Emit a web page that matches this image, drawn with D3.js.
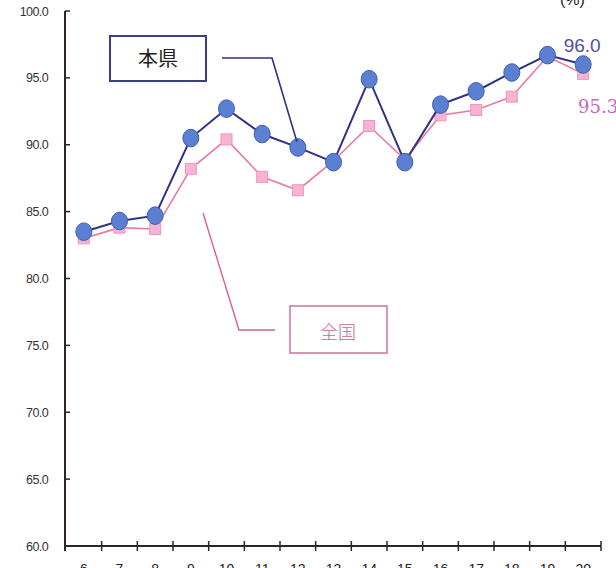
<!DOCTYPE html>
<html>
<head>
<meta charset="utf-8">
<script src="https://cdn.jsdelivr.net/npm/d3@7"></script>
<style>
  body { margin: 0; background: #fff; }
  svg { display: block; }
</style>
</head>
<body>
<div id="chart"></div>
<script>
// years (heisei 6 .. 20)
const years = [6, 7, 8, 9, 10, 11, 12, 13, 14, 15, 16, 17, 18, 19, 20];
// prefecture rate
const kenValues = [83.5, 84.3, 84.7, 90.5, 92.7, 90.8, 89.8, 88.7, 94.9, 88.7, 93.0, 94.0, 95.4, 96.7, 96.0];
// national rate
const zenValues = [83.0, 83.8, 83.7, 88.2, 90.4, 87.6, 86.6, 88.8, 91.4, 88.9, 92.2, 92.6, 93.6, 96.6, 95.3];
const yTicks = [60, 65, 70, 75, 80, 85, 90, 95, 100];

const width = 616, height = 568;
const font = "'Liberation Sans', Arial, sans-serif";

const svg = d3.select("#chart").append("svg")
    .attr("width", width)
    .attr("height", height);

const x = d3.scaleBand().domain(years).range([66, 601]).padding(0);
const y = d3.scaleLinear().domain([60, 100]).range([546, 11]);
const cx = d => x(d) + x.bandwidth() / 2;

// y axis
const axisColor = "#2e2626";
svg.append("line")
    .attr("x1", 65).attr("x2", 65)
    .attr("y1", y(100)).attr("y2", y(60) + 5)
    .attr("stroke", axisColor).attr("stroke-width", 2);

svg.append("g").selectAll("line")
    .data(yTicks)
    .join("line")
    .attr("x1", 65).attr("x2", 70)
    .attr("y1", d => y(d)).attr("y2", d => y(d))
    .attr("stroke", axisColor).attr("stroke-width", 1.5);

svg.append("g").selectAll("text")
    .data(yTicks)
    .join("text")
    .attr("x", 48)
    .attr("y", d => y(d) + 4.5)
    .attr("text-anchor", "end")
    .attr("font-family", font)
    .attr("font-size", 12.5)
    .attr("letter-spacing", -0.6)
    .attr("fill", "#333")
    .text(d => d.toFixed(1));

// x axis
svg.append("line")
    .attr("x1", 65).attr("x2", 601)
    .attr("y1", y(60)).attr("y2", y(60))
    .attr("stroke", axisColor).attr("stroke-width", 2);

const edges = years.map(d => x(d)).concat([x(years[years.length - 1]) + x.bandwidth()]);
svg.append("g").selectAll("line")
    .data(edges.slice(1))
    .join("line")
    .attr("x1", d => d).attr("x2", d => d)
    .attr("y1", y(60) - 5).attr("y2", y(60) + 5)
    .attr("stroke", axisColor).attr("stroke-width", 1.5);

// year labels sit partly below the picture edge, as in the reference
svg.append("g").selectAll("text")
    .data(years)
    .join("text")
    .attr("x", d => cx(d))
    .attr("y", 574)
    .attr("text-anchor", "middle")
    .attr("font-family", font)
    .attr("font-size", 14)
    .attr("fill", "#222")
    .text(d => d);

// unit label, cut at top right
svg.append("text")
    .attr("x", 560).attr("y", 5)
    .attr("font-family", font)
    .attr("font-size", 16)
    .attr("fill", "#222")
    .text("(%)");

const line = d3.line()
    .x((d, i) => cx(years[i]))
    .y(d => y(d));

// national series
svg.append("path")
    .datum(zenValues)
    .attr("d", line)
    .attr("fill", "none")
    .attr("stroke", "#e97aa6")
    .attr("stroke-width", 1.6);

svg.append("g").selectAll("rect")
    .data(zenValues)
    .join("rect")
    .attr("x", (d, i) => cx(years[i]) - 5.5)
    .attr("y", d => y(d) - 5.5)
    .attr("width", 11).attr("height", 11)
    .attr("fill", "#f7b3d2")
    .attr("stroke", "#f195c0")
    .attr("stroke-width", 1);

// prefecture series
svg.append("path")
    .datum(kenValues)
    .attr("d", line)
    .attr("fill", "none")
    .attr("stroke", "#303088")
    .attr("stroke-width", 2);

svg.append("g").selectAll("ellipse")
    .data(kenValues)
    .join("ellipse")
    .attr("cx", (d, i) => cx(years[i]))
    .attr("cy", d => y(d))
    .attr("rx", 8).attr("ry", 8.8)
    .attr("fill", "#5b80d2")
    .attr("stroke", "#3d5fb0")
    .attr("stroke-width", 1);

// end value labels
const last = years.length - 1;
svg.append("text")
    .attr("x", cx(years[last]) - 1)
    .attr("y", 52)
    .attr("text-anchor", "middle")
    .attr("font-family", font)
    .attr("font-size", 19)
    .attr("fill", "#5050a2")
    .text(kenValues[last].toFixed(1));

svg.append("text")
    .attr("x", 578)
    .attr("y", 113)
    .attr("font-family", "'DejaVu Serif', serif")
    .attr("font-size", 18)
    .attr("fill", "#c868b4")
    .text(zenValues[last].toFixed(1));

// legend: 本県
const kenIdx = years.indexOf(12);
svg.append("rect")
    .attr("x", 110).attr("y", 36)
    .attr("width", 96).attr("height", 45)
    .attr("fill", "#fff")
    .attr("stroke", "#3b3b8f").attr("stroke-width", 2);
svg.append("text")
    .attr("x", 158).attr("y", 66)
    .attr("text-anchor", "middle")
    .attr("font-family", "'Noto Sans CJK JP', sans-serif")
    .attr("font-size", 20)
    .attr("font-weight", 400)
    .attr("fill", "#222")
    .text("本県");
svg.append("polyline")
    .attr("points", [[222, 58], [272, 58], [cx(years[kenIdx]) - 1, y(kenValues[kenIdx]) - 6]].join(" "))
    .attr("fill", "none")
    .attr("stroke", "#303088")
    .attr("stroke-width", 1.6);

// legend: 全国
svg.append("rect")
    .attr("x", 290).attr("y", 306)
    .attr("width", 97).attr("height", 47)
    .attr("fill", "#fff")
    .attr("stroke", "#d47aa4").attr("stroke-width", 1.6);
svg.append("text")
    .attr("x", 338).attr("y", 339)
    .attr("text-anchor", "middle")
    .attr("font-family", "'Noto Sans CJK JP', sans-serif")
    .attr("font-size", 18)
    .attr("font-weight", 300)
    .attr("fill", "#d0609a")
    .text("全国");
svg.append("polyline")
    .attr("points", [[203, 213], [239, 330], [275, 330]].join(" "))
    .attr("fill", "none")
    .attr("stroke", "#d8609a")
    .attr("stroke-width", 1.4);
</script>
</body>
</html>
